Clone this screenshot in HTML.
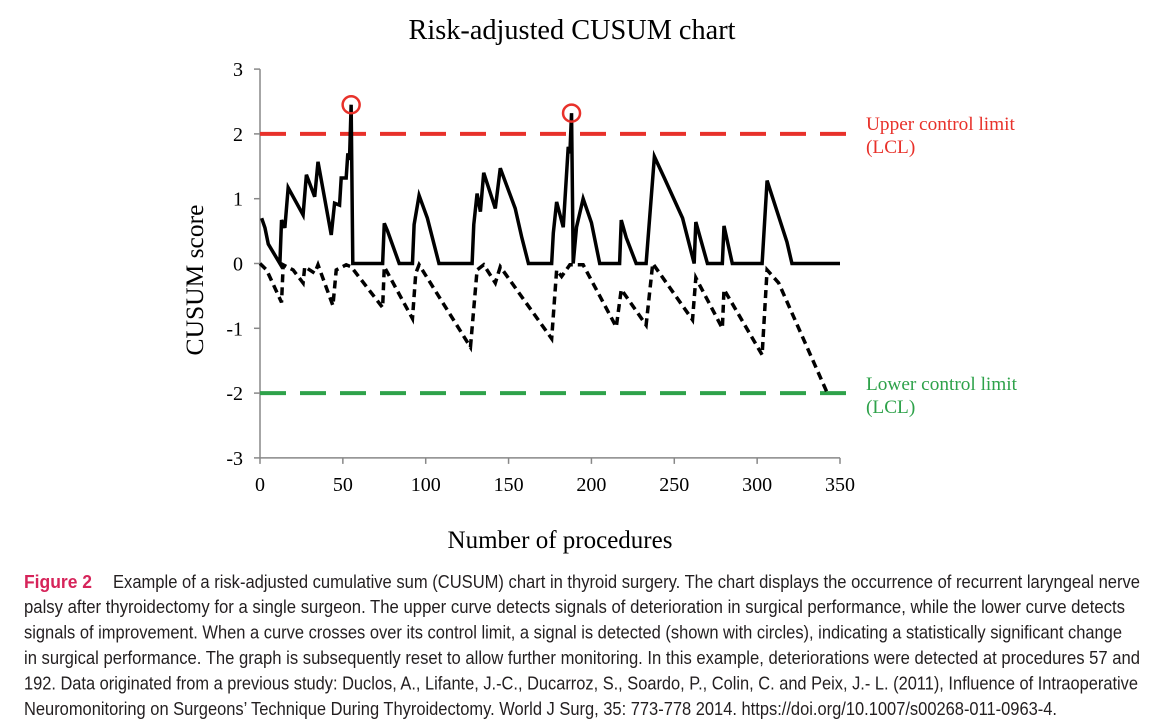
<!DOCTYPE html>
<html><head><meta charset="utf-8"><style>
html,body{margin:0;padding:0;background:#fff;}
svg{display:block}
</style></head><body>
<svg id="chart" width="1170" height="723" xmlns="http://www.w3.org/2000/svg">
<rect width="1170" height="723" fill="#fff"/>
<text x="572" y="39" text-anchor="middle" font-family="Liberation Serif, serif" font-size="28.3" fill="#000">Risk-adjusted CUSUM chart</text>
<g id="axes"></g>
<g id="marks"></g>
<text transform="translate(203,280) rotate(-90)" text-anchor="middle" font-family="Liberation Serif, serif" font-size="25.5">CUSUM score</text>
<text x="560" y="548" text-anchor="middle" font-family="Liberation Serif, serif" font-size="25">Number of procedures</text>
<g font-family="Liberation Serif, serif" font-size="19.3">
<text x="866" y="130" fill="#e8312a">Upper control limit</text>
<text x="866" y="153" fill="#e8312a">(LCL)</text>
<text x="866" y="390" fill="#2ea24a">Lower control limit</text>
<text x="866" y="413" fill="#2ea24a">(LCL)</text>
</g>
<g font-family="Liberation Sans Narrow, Liberation Sans, sans-serif" font-size="18" fill="#231f20">
<text x="24" y="588"><tspan fill="#d6245a" font-weight="bold" textLength="68" lengthAdjust="spacingAndGlyphs">Figure 2</tspan><tspan x="113" textLength="1027" lengthAdjust="spacingAndGlyphs">Example of a risk-adjusted cumulative sum (CUSUM) chart in thyroid surgery. The chart displays the occurrence of recurrent laryngeal nerve</tspan></text>
<text x="24" y="613" textLength="1101" lengthAdjust="spacingAndGlyphs">palsy after thyroidectomy for a single surgeon. The upper curve detects signals of deterioration in surgical performance, while the lower curve detects</text>
<text x="24" y="638.5" textLength="1098" lengthAdjust="spacingAndGlyphs">signals of improvement. When a curve crosses over its control limit, a signal is detected (shown with circles), indicating a statistically significant change</text>
<text x="24" y="664" textLength="1116" lengthAdjust="spacingAndGlyphs">in surgical performance. The graph is subsequently reset to allow further monitoring. In this example, deteriorations were detected at procedures 57 and</text>
<text x="24" y="689.5" textLength="1114" lengthAdjust="spacingAndGlyphs">192. Data originated from a previous study: Duclos, A., Lifante, J.-C., Ducarroz, S., Soardo, P., Colin, C. and Peix, J.- L. (2011), Influence of Intraoperative</text>
<text x="24" y="715" textLength="1033" lengthAdjust="spacingAndGlyphs">Neuromonitoring on Surgeons’ Technique During Thyroidectomy. World J Surg, 35: 773-778 2014. https://doi.org/10.1007/s00268-011-0963-4.</text>
</g>
</svg>
<script>
const upperX=[1,3,5,12,13,15,17,26,28,33,35,43,45,48,49,52,53,54,55,56,74,75,77,84,92,93,96,101,108,128,129,131,133,135,142,145,154,158,162,176,177,179,183,186,187,188,189,191,195,200,205,217,218,221,227,233,238,244,255,262,263,270,279,280,285,303,306,318,321,350];
const upperY=[0.70,0.55,0.3,0,0.67,0.55,1.17,0.75,1.37,1.03,1.57,0.44,0.93,0.9,1.32,1.32,1.7,1.6,2.45,0,0,0.62,0.5,0,0,0.6,1.05,0.7,0,0,0.6,1.08,0.8,1.4,0.85,1.47,0.85,0.4,0,0,0.47,0.95,0.56,1.8,1.7,2.32,0,0.56,1.0,0.63,0,0,0.67,0.4,0,0,1.65,1.32,0.7,0,0.64,0,0,0.58,0,0,1.28,0.33,0,0];
const lowerX=[0,4,13,14,20,26,27,33,35,44,46,52,55,74,75,92,94,96,127,131,135,142,145,176,179,182,187,195,215,218,233,237,261,263,279,280,303,306,313,342];
const lowerY=[0,-0.1,-0.6,-0.02,-0.1,-0.3,-0.05,-0.15,-0.02,-0.65,-0.1,-0.02,-0.05,-0.68,-0.05,-0.85,-0.15,-0.02,-1.29,-0.1,-0.02,-0.3,-0.05,-1.16,-0.1,-0.2,-0.02,-0.02,-0.98,-0.4,-0.95,0,-0.87,-0.22,-1.0,-0.4,-1.41,-0.1,-0.3,-1.98];
const yTicks=[3,2,1,0,-1,-2,-3];
const xTicks=[0,50,100,150,200,250,300,350];
const signalX=[55,188];
const signalY=[2.45,2.32];
const ucl=2, lcl=-2;
const NS='http://www.w3.org/2000/svg';
const sx=v=>260+v*580/350;
const sy=v=>263.5-v*64.8;
function mk(tag,attrs,parent){const e=document.createElementNS(NS,tag);for(const k in attrs)e.setAttribute(k,attrs[k]);parent.appendChild(e);return e;}
const ax=document.getElementById('axes'), mg=document.getElementById('marks');
let e=mk('line',{x1:260,y1:sy(3),x2:260,y2:sy(-3),stroke:'#888','stroke-width':1.5},ax);


yTicks.forEach(t=>{
 mk('line',{x1:254,y1:sy(t),x2:260,y2:sy(t),stroke:'#888','stroke-width':1.5},ax);
 const tx=mk('text',{x:243,y:sy(t)+7,'text-anchor':'end','font-family':'Liberation Serif, serif','font-size':20},ax);
 tx.textContent=t;
 
 
});
e=mk('line',{x1:260,y1:sy(-3),x2:sx(350),y2:sy(-3),stroke:'#888','stroke-width':1.5},ax);


xTicks.forEach(t=>{
 mk('line',{x1:sx(t),y1:sy(-3),x2:sx(t),y2:sy(-3)+6,stroke:'#888','stroke-width':1.5},ax);
 const tx=mk('text',{x:sx(t),y:491,'text-anchor':'middle','font-family':'Liberation Serif, serif','font-size':20},ax);
 tx.textContent=t;
 
 
});
e=mk('line',{x1:260,y1:sy(ucl),x2:848,y2:sy(ucl),stroke:'#e8312a','stroke-width':4,'stroke-dasharray':'26 14'},mg);


e=mk('line',{x1:260,y1:sy(lcl),x2:848,y2:sy(lcl),stroke:'#2ea24a','stroke-width':4,'stroke-dasharray':'26 14'},mg);


e=mk('polyline',{points:lowerX.map((x,i)=>sx(x)+','+sy(lowerY[i])).join(' '),fill:'none',stroke:'#000','stroke-width':3.5,'stroke-dasharray':'8 5'},mg);


e=mk('polyline',{points:upperX.map((x,i)=>sx(x)+','+sy(upperY[i])).join(' '),fill:'none',stroke:'#000','stroke-width':3.5},mg);


signalX.forEach((x,i)=>{
 const c=mk('circle',{cx:sx(x),cy:sy(signalY[i]),r:8.5,fill:'none',stroke:'#e8312a','stroke-width':2.5},mg);
 
 
});
</script>
</body></html>
